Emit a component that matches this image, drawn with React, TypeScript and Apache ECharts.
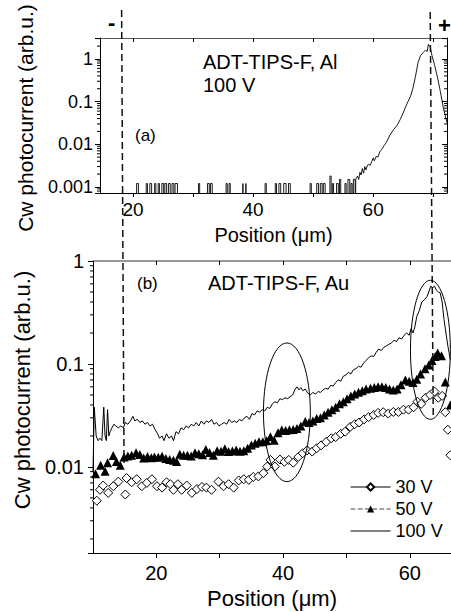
import React, { useEffect, useRef } from 'react';
import * as echarts from 'echarts';

const FONT = '"Liberation Sans", Arial, Helvetica, sans-serif';

// ---------- Panel (a): ADT-TIPS-F, Al, 100 V ----------
// noise pulses near the detection floor: [start, end, level]
const alPulses: number[][] = [
  [20.6, 20.9, 0.0012], [22.2, 22.4, 0.0012], [22.8, 23.1, 0.0012], [23.6, 23.8, 0.0012],
  [24.2, 24.4, 0.0012], [24.8, 25.1, 0.0012], [25.3, 25.6, 0.0012], [25.9, 26.2, 0.0012],
  [26.5, 26.8, 0.0012], [27.0, 27.4, 0.0012], [30.9, 31.1, 0.0012], [32.4, 32.7, 0.0012],
  [32.9, 33.2, 0.0012], [35.5, 35.7, 0.0012], [36.0, 36.2, 0.0012], [38.3, 38.4, 0.0012],
  [38.8, 38.9, 0.0012], [42.0, 42.2, 0.0012], [43.7, 43.9, 0.0012], [44.3, 44.6, 0.0012],
  [45.1, 45.5, 0.0012], [45.9, 46.2, 0.0012], [49.5, 49.7, 0.0012], [50.6, 50.9, 0.0012],
  [51.2, 51.5, 0.0012], [51.7, 52.0, 0.0012], [52.8, 53.0, 0.0018], [53.2, 53.4, 0.0012],
  [53.9, 54.2, 0.0012], [54.4, 54.6, 0.0015], [55.3, 55.5, 0.0012], [55.8, 56.1, 0.0015],
  [56.3, 56.5, 0.0012], [56.7, 57.0, 0.0015],
];
const alRiseX = [57.1, 57.4, 57.6, 57.8, 58.0, 58.2, 58.4, 58.6, 58.8, 59.0, 59.2, 59.5, 59.8, 60.0, 60.2, 60.5, 60.8, 61.1, 61.4, 61.8, 62.2, 62.8, 63.4, 64.0, 64.5, 65.0, 65.4, 65.8, 66.2, 66.6, 67.0, 67.5, 67.9, 68.3, 68.7, 69.0, 69.2, 69.5, 69.8, 70.2, 70.7, 71.2, 71.7, 72.3];
const alRiseY = [0.0015, 0.0018, 0.0015, 0.0022, 0.0019, 0.0027, 0.0021, 0.003, 0.0025, 0.0031, 0.0034, 0.0032, 0.004, 0.0048, 0.0041, 0.0052, 0.005, 0.0066, 0.0075, 0.0092, 0.011, 0.0165, 0.022, 0.028, 0.038, 0.054, 0.075, 0.1, 0.13, 0.2, 0.36, 0.85, 1.2, 1.4, 1.6, 1.5, 2.2, 1.9, 1.2, 0.75, 0.38, 0.17, 0.07, 0.032];
const AL_FLOOR = 1e-5; // zero signal (below axis)

// ---------- Panel (b): ADT-TIPS-F, Au ----------
const au30: number[][] = [
  [10.6, 0.0047], [11.1, 0.006], [11.6, 0.0066], [12.4, 0.0056], [13.2, 0.0065], [14.0, 0.0072], [15.1, 0.0054], [15.3, 0.0078],
  [16.1, 0.0071], [16.9, 0.0076], [17.7, 0.0065], [18.5, 0.007], [19.3, 0.0076], [20.1, 0.0065], [20.9, 0.0063], [21.6, 0.0071],
  [22.2, 0.0068], [22.7, 0.006], [23.4, 0.0068], [24.0, 0.006], [24.8, 0.0066], [25.6, 0.0056], [26.4, 0.0061], [27.2, 0.0064],
  [27.9, 0.0063], [28.7, 0.006], [29.8, 0.0072], [30.6, 0.0065], [31.4, 0.0068], [32.2, 0.0063], [33.0, 0.0074], [33.8, 0.0076],
  [34.6, 0.0075], [35.3, 0.008], [36.1, 0.0081], [36.9, 0.0087], [37.5, 0.0101], [38.0, 0.0117], [38.7, 0.0101], [39.5, 0.0118],
  [40.2, 0.0112], [40.9, 0.0117], [41.6, 0.011], [42.4, 0.0125], [43.1, 0.0136], [43.8, 0.0145], [44.6, 0.0141], [45.3, 0.0152],
  [46.0, 0.0162], [46.8, 0.0175], [47.6, 0.019], [48.3, 0.0195], [49.1, 0.021], [49.8, 0.022], [50.6, 0.0245], [51.3, 0.026],
  [52.0, 0.027], [52.8, 0.029], [53.5, 0.0305], [54.3, 0.032], [55.0, 0.0335], [55.8, 0.034], [56.6, 0.033], [57.4, 0.0342],
  [58.2, 0.0342], [59.0, 0.036], [59.8, 0.036], [60.6, 0.038], [61.2, 0.043], [61.8, 0.041], [62.5, 0.047], [63.2, 0.05],
  [63.9, 0.054], [64.5, 0.047], [65.1, 0.049], [65.6, 0.034], [66.0, 0.023], [66.4, 0.013],
];
const au50: number[][] = [
  [10.4, 0.0086], [11.2, 0.0104], [11.9, 0.0091], [12.3, 0.011], [13.2, 0.0129], [13.7, 0.0113], [14.3, 0.0104], [14.9, 0.0125],
  [15.5, 0.0128], [16.1, 0.013], [16.8, 0.0137], [17.4, 0.0132], [18.0, 0.0122], [18.6, 0.0126], [19.2, 0.0123], [19.7, 0.0125],
  [20.3, 0.0124], [20.9, 0.0127], [21.5, 0.0121], [22.1, 0.0118], [22.7, 0.0116], [23.2, 0.0113], [23.7, 0.0133], [24.3, 0.013],
  [24.9, 0.013], [25.5, 0.0128], [26.1, 0.0137], [26.7, 0.0134], [27.3, 0.0131], [27.8, 0.0148], [28.4, 0.0138], [29.0, 0.013],
  [29.6, 0.0144], [30.2, 0.0142], [30.8, 0.015], [31.4, 0.0141], [32.0, 0.0143], [32.6, 0.0146], [33.2, 0.0142], [33.8, 0.0144],
  [34.4, 0.0152], [35.0, 0.0163], [35.6, 0.017], [36.2, 0.0176], [36.8, 0.0176], [37.4, 0.018], [38.0, 0.0197], [38.6, 0.0182],
  [39.2, 0.0215], [39.8, 0.0228], [40.4, 0.0226], [41.0, 0.023], [41.6, 0.0231], [42.2, 0.0236], [42.8, 0.025], [43.5, 0.0276],
  [44.1, 0.027], [44.7, 0.028], [45.3, 0.0295], [45.9, 0.03], [46.5, 0.032], [47.1, 0.034], [47.7, 0.036], [48.3, 0.038],
  [48.9, 0.041], [49.5, 0.043], [50.1, 0.046], [50.7, 0.049], [51.3, 0.051], [51.9, 0.053], [52.5, 0.055], [53.1, 0.057],
  [53.8, 0.058], [54.4, 0.059], [55.0, 0.06], [55.6, 0.06], [56.2, 0.059], [56.8, 0.057], [57.4, 0.056], [58.0, 0.057],
  [58.6, 0.063], [59.3, 0.07], [59.9, 0.068], [60.5, 0.066], [61.1, 0.071], [61.7, 0.08], [62.4, 0.09], [63.0, 0.098],
  [63.5, 0.108], [64.0, 0.118], [64.4, 0.128], [65.0, 0.12], [65.6, 0.067], [66.4, 0.04],
];
const au100: number[][] = [
  [10.0, 0.009], [10.2, 0.038], [10.5, 0.02], [10.8, 0.018], [11.1, 0.019], [11.4, 0.018], [11.7, 0.038], [11.9, 0.02],
  [12.1, 0.018], [12.3, 0.036], [12.5, 0.02], [12.7, 0.022], [13.0, 0.024], [13.3, 0.026], [13.6, 0.025], [14.0, 0.024],
  [14.4, 0.025], [14.8, 0.024], [15.1, 0.027], [15.5, 0.026], [15.9, 0.028], [16.3, 0.031], [16.6, 0.028], [17.0, 0.029],
  [17.4, 0.027], [17.8, 0.028], [18.2, 0.026], [18.6, 0.027], [19.0, 0.025], [19.4, 0.026], [19.8, 0.023], [20.2, 0.021],
  [20.5, 0.019], [20.9, 0.02], [21.2, 0.018], [21.6, 0.021], [22.0, 0.019], [22.4, 0.02], [22.7, 0.018], [23.1, 0.022],
  [23.5, 0.021], [23.9, 0.024], [24.3, 0.023], [24.7, 0.025], [25.1, 0.024], [25.5, 0.026], [25.9, 0.025], [26.3, 0.027],
  [26.7, 0.025], [27.1, 0.028], [27.5, 0.026], [27.9, 0.028], [28.3, 0.027], [28.7, 0.029], [29.1, 0.026], [29.5, 0.027],
  [29.9, 0.025], [30.3, 0.026], [30.7, 0.027], [31.1, 0.026], [31.5, 0.029], [31.9, 0.027], [32.3, 0.028], [32.7, 0.027],
  [33.1, 0.029], [33.5, 0.028], [33.9, 0.03], [34.3, 0.031], [34.7, 0.029], [35.1, 0.033], [35.5, 0.032], [35.9, 0.035],
  [36.3, 0.034], [36.7, 0.036], [37.1, 0.035], [37.5, 0.038], [37.9, 0.037], [38.3, 0.041], [38.7, 0.043], [39.1, 0.042],
  [39.5, 0.046], [39.9, 0.045], [40.3, 0.047], [40.7, 0.046], [41.1, 0.048], [41.5, 0.05], [41.9, 0.057], [42.2, 0.06],
  [42.5, 0.056], [42.8, 0.059], [43.1, 0.055], [43.5, 0.057], [43.9, 0.052], [44.3, 0.05], [44.7, 0.053], [45.1, 0.051],
  [45.5, 0.054], [45.9, 0.053], [46.3, 0.056], [46.7, 0.058], [47.1, 0.057], [47.5, 0.062], [47.9, 0.061], [48.3, 0.066],
  [48.7, 0.07], [49.1, 0.068], [49.5, 0.076], [49.9, 0.078], [50.3, 0.083], [50.7, 0.08], [51.1, 0.088], [51.5, 0.09],
  [51.9, 0.095], [52.3, 0.093], [52.7, 0.102], [53.1, 0.108], [53.5, 0.115], [53.9, 0.12], [54.3, 0.118], [54.7, 0.13],
  [55.1, 0.14], [55.5, 0.135], [55.9, 0.145], [56.3, 0.15], [56.7, 0.155], [57.1, 0.16], [57.5, 0.17], [57.9, 0.165],
  [58.3, 0.18], [58.7, 0.175], [59.1, 0.19], [59.5, 0.2], [59.9, 0.19], [60.2, 0.22], [60.5, 0.2], [60.8, 0.23],
  [61.1, 0.29], [61.5, 0.33], [61.9, 0.4], [62.3, 0.42], [62.7, 0.45], [63.0, 0.5], [63.3, 0.57], [63.6, 0.55],
  [63.9, 0.57], [64.2, 0.52], [64.5, 0.5], [64.8, 0.49], [65.1, 0.4], [65.4, 0.27], [65.7, 0.2], [66.0, 0.15], [66.4, 0.11],
];

// axis ranges
const xA = [14.5, 72.3];
const yA = [0.00072, 3.1];
const xB = [10, 66.5];
const yB = [0.00146, 1];

// annotation anchors (data units): dashed electrode lines and ellipses
const electrodeMinus = { topX: 18.1, bottomX: 14.9 };
const electrodePlus = { topX: 69.5, bottomX: 63.7 };
const ellipses = [
  { x: [36.9, 44.3], y: [0.0072, 0.16] },
  { x: [60.1, 66.4], y: [0.029, 0.65] },
];

const G0 = { left: 100, top: 38, width: 347, height: 155 };
const G1 = { left: 93, top: 261, width: 358, height: 292 };

const logLabel = (v: number) => {
  const l = Math.log10(v);
  const r = Math.round(l);
  if (Math.abs(l - r) > 1e-6) return '';
  return String(Number(Math.pow(10, r).toFixed(Math.max(0, -r))));
};
const xLabel = (v: number) => (Math.abs(v % 20) < 1e-6 && v > 0 ? String(v) : '');

function buildAl(): number[][] {
  const out: number[][] = [[xA[0], AL_FLOOR]];
  for (const [s, e, l] of alPulses) {
    out.push([s, AL_FLOOR], [s, l], [e, l], [e, AL_FLOOR]);
  }
  out.push([alRiseX[0], AL_FLOOR]);
  alRiseX.forEach((x, i) => out.push([x, alRiseY[i]]));
  return out;
}

export default function App() {
  const ref = useRef<HTMLDivElement>(null);
  useEffect(() => {
    const chart = echarts.init(ref.current!, null, { renderer: 'svg' });
    const axisLineBlack = { show: true, lineStyle: { color: '#000', width: 1 } };
    const option: any = {
      animation: false,
      backgroundColor: '#fff',
      grid: [
        { ...G0, containLabel: false },
        { ...G1, containLabel: false },
      ],
      xAxis: [
        {
          type: 'value', gridIndex: 0, position: 'bottom', min: xA[0], max: xA[1],
          axisLine: axisLineBlack, splitLine: { show: false },
          axisTick: { show: true, inside: false, length: 4, lineStyle: { color: '#000' } },
          axisLabel: { formatter: xLabel, fontSize: 19, fontFamily: FONT, color: '#000', margin: 7, showMinLabel: false, showMaxLabel: false },
          name: 'Position (μm)', nameLocation: 'middle', nameGap: 32,
          nameTextStyle: { fontSize: 20, fontFamily: FONT, color: '#000' },
        },
        {
          type: 'value', gridIndex: 0, position: 'top', min: xA[0], max: xA[1],
          axisLine: { show: true, lineStyle: { color: '#555', width: 1.2 } }, splitLine: { show: false },
          axisTick: { show: true, inside: true, length: 4, lineStyle: { color: '#000' } },
          axisLabel: { show: false },
        },
        {
          type: 'value', gridIndex: 1, position: 'bottom', min: xB[0], max: xB[1],
          axisLine: axisLineBlack, splitLine: { show: false },
          axisTick: { show: true, inside: false, length: 5, lineStyle: { color: '#000' } },
          axisLabel: { formatter: xLabel, fontSize: 20, fontFamily: FONT, color: '#000', margin: 10, showMinLabel: false, showMaxLabel: false },
          name: 'Position (μm)', nameLocation: 'middle', nameGap: 34,
          nameTextStyle: { fontSize: 22, fontFamily: FONT, color: '#000' },
        },
        {
          type: 'value', gridIndex: 1, position: 'top', min: xB[0], max: xB[1],
          axisLine: { show: true, lineStyle: { color: '#777', width: 1.5 } }, splitLine: { show: false },
          axisTick: { show: true, inside: true, length: 4, lineStyle: { color: '#000' } },
          axisLabel: { show: false },
        },
      ],
      yAxis: [
        {
          type: 'log', logBase: 10, gridIndex: 0, position: 'left', min: yA[0], max: yA[1],
          axisLine: axisLineBlack, splitLine: { show: false },
          axisTick: { show: true, inside: false, length: 5, lineStyle: { color: '#000' } },
          axisLabel: { formatter: logLabel, fontSize: 18, fontFamily: FONT, color: '#000', margin: 7 },
        },
        {
          type: 'log', logBase: 10, gridIndex: 0, position: 'right', min: yA[0], max: yA[1],
          axisLine: axisLineBlack, splitLine: { show: false },
          axisTick: { show: true, inside: true, length: 5, lineStyle: { color: '#000' } },
          axisLabel: { show: false },
        },
        {
          type: 'log', logBase: 10, gridIndex: 1, position: 'left', min: yB[0], max: yB[1],
          axisLine: axisLineBlack, splitLine: { show: false },
          axisTick: { show: true, inside: false, length: 5, lineStyle: { color: '#000' } },
          axisLabel: { formatter: logLabel, fontSize: 20, fontFamily: FONT, color: '#000', margin: 9 },
        },
      ],
      legend: {
        orient: 'vertical', left: 345, top: 472, itemWidth: 40, itemHeight: 9, itemGap: 2,
        selectedMode: false,
        textStyle: { fontSize: 18, fontFamily: FONT, color: '#000', lineHeight: 20 },
        data: [
          { name: '30 V', lineStyle: { opacity: 1, color: '#000', width: 1.2, type: 'solid' } },
          { name: '50 V', lineStyle: { opacity: 1, color: '#444', width: 1.2, type: 'dashed' } },
          { name: '100 V', lineStyle: { opacity: 1, color: '#000', width: 1.2, type: 'solid' }, itemStyle: { opacity: 0 } },
        ],
      },
      series: [
        {
          name: 'Al 100 V', type: 'line', xAxisIndex: 0, yAxisIndex: 0, data: buildAl(),
          symbol: 'none', lineStyle: { color: '#000', width: 0.9 }, itemStyle: { color: '#000' }, silent: true,
        },
        {
          name: '100 V', type: 'line', xAxisIndex: 2, yAxisIndex: 2, data: au100,
          symbol: 'none', lineStyle: { color: '#000', width: 1 }, itemStyle: { color: '#000' }, silent: true, z: 3,
        },
        {
          name: '50 V', type: 'line', xAxisIndex: 2, yAxisIndex: 2, data: au50,
          symbol: 'triangle', symbolSize: 9, showSymbol: true,
          lineStyle: { opacity: 0, color: '#000', width: 0 }, itemStyle: { color: '#000' }, silent: true, z: 4,
        },
        {
          name: '30 V', type: 'line', xAxisIndex: 2, yAxisIndex: 2, data: au30,
          symbol: 'diamond', symbolSize: 9, showSymbol: true,
          lineStyle: { opacity: 0, color: '#000', width: 0 },
          itemStyle: { color: '#fff', borderColor: '#000', borderWidth: 1 }, silent: true, z: 5,
        },
      ],
    };
    chart.setOption(option);

    const px = (idx: number, v: number) => chart.convertToPixel({ xAxisIndex: idx } as any, v) as unknown as number;
    const py = (idx: number, v: number) => chart.convertToPixel({ yAxisIndex: idx } as any, v) as unknown as number;

    const g: any[] = [];
    const minor = (yIdx: number, range: number[], x0: number, dir: number, len: number) => {
      for (let d = Math.floor(Math.log10(range[0])); d <= Math.ceil(Math.log10(range[1])); d++) {
        for (let k = 2; k <= 9; k++) {
          const v = k * Math.pow(10, d);
          if (v <= range[0] || v >= range[1]) continue;
          const y = py(yIdx, v);
          g.push({ type: 'line', silent: true, shape: { x1: x0, y1: y, x2: x0 + dir * len, y2: y }, style: { stroke: '#000', lineWidth: 1 } });
        }
      }
    };
    minor(0, yA, G0.left, -1, 3);
    minor(1, yA, G0.left + G0.width, -1, 3);
    minor(2, yB, G1.left, -1, 3);

    // dashed electrode lines
    const dash = { stroke: '#111', lineWidth: 1.5, lineDash: [7, 4] };
    g.push({ type: 'line', silent: true, z: 10, shape: { x1: px(0, electrodeMinus.topX), y1: 10, x2: px(2, electrodeMinus.bottomX), y2: 463 }, style: dash });
    g.push({ type: 'line', silent: true, z: 10, shape: { x1: px(0, electrodePlus.topX), y1: 12, x2: px(2, electrodePlus.bottomX), y2: 417 }, style: dash });

    // ellipses
    for (const e of ellipses) {
      const x0 = px(2, e.x[0]), x1 = px(2, e.x[1]);
      const y0 = py(2, e.y[0]), y1 = py(2, e.y[1]);
      g.push({
        type: 'ellipse', silent: true, z: 10,
        shape: { cx: (x0 + x1) / 2, cy: (y0 + y1) / 2, rx: Math.abs(x1 - x0) / 2, ry: Math.abs(y1 - y0) / 2 },
        style: { fill: 'none', stroke: '#000', lineWidth: 1 },
      });
    }

    const txt = (text: string, x: number, y: number, size: number, extra: any = {}) => ({
      type: 'text', silent: true, z: 10, x, y, ...extra,
      style: { text, fontSize: size, fontFamily: FONT, fill: '#000', align: 'left', verticalAlign: 'middle', ...(extra.style || {}) },
    });
    g.push(txt('-', 108, 22, 22, { style: { fontWeight: 'bold' } }));
    g.push(txt('+', 438, 25, 22, { style: { fontWeight: 'bold' } }));
    g.push(txt('ADT-TIPS-F, Al', 203, 62, 20));
    g.push(txt('100 V', 203, 85, 20));
    g.push(txt('(a)', 135, 135, 17));
    g.push(txt('(b)', 137, 283, 17));
    g.push(txt('ADT-TIPS-F, Au', 208, 283, 20));
    g.push({
      type: 'text', silent: true, z: 10, x: 25, y: 118, rotation: Math.PI / 2,
      style: { text: 'Cw photocurrent (arb.u.)', fontSize: 21, fontFamily: FONT, fill: '#000', align: 'center', verticalAlign: 'middle' },
    });
    g.push({
      type: 'text', silent: true, z: 10, x: 22, y: 390, rotation: Math.PI / 2,
      style: { text: 'Cw photocurrent (arb.u.)', fontSize: 22, fontFamily: FONT, fill: '#000', align: 'center', verticalAlign: 'middle' },
    });

    chart.setOption({ graphic: g });
    return () => chart.dispose();
  }, []);

  return <div ref={ref} style={{ position: 'absolute', left: 0, top: 0, width: 451, height: 612 }} />;
}
